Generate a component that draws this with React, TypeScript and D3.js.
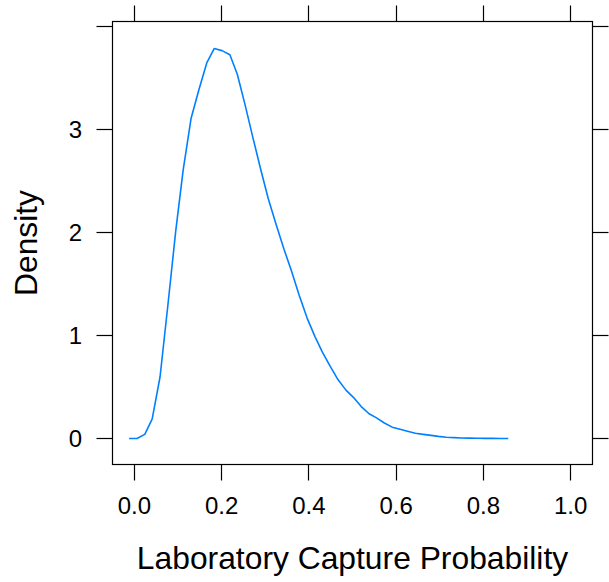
import React from "react";
import * as d3 from "d3";

const xValues = [
  -0.012, 0.006, 0.024, 0.041, 0.059, 0.077, 0.095, 0.112, 0.13, 0.148,
  0.166, 0.183, 0.201, 0.219, 0.236, 0.254, 0.272, 0.29, 0.307, 0.325,
  0.343, 0.36, 0.378, 0.396, 0.414, 0.431, 0.449, 0.467, 0.485, 0.502,
  0.52, 0.538, 0.555, 0.573, 0.591, 0.609, 0.626, 0.644, 0.662, 0.68,
  0.697, 0.715, 0.733, 0.75, 0.768, 0.786, 0.804, 0.821, 0.839, 0.857,
];
const densityValues = [
  0.0, 0.0, 0.04, 0.19, 0.6, 1.3, 2.02, 2.61, 3.11, 3.39,
  3.65, 3.79, 3.77, 3.73, 3.54, 3.24, 2.92, 2.61, 2.33, 2.08,
  1.84, 1.63, 1.39, 1.17, 0.99, 0.84, 0.7, 0.57, 0.47, 0.4,
  0.31, 0.24, 0.2, 0.15, 0.11, 0.09, 0.07, 0.05, 0.04, 0.03,
  0.02, 0.012, 0.008, 0.005, 0.003, 0.002, 0.001, 0.001, 0.0, 0.0,
];
const xTicks = [0, 0.2, 0.4, 0.6, 0.8, 1.0];
const xTickLabels = ["0.0", "0.2", "0.4", "0.6", "0.8", "1.0"];
const yTicks = [0, 1, 2, 3, 4];
const yTickLabels = ["0", "1", "2", "3", ""];
const xTitle = "Laboratory Capture Probability";
const yTitle = "Density";

const W = 609;
const H = 582;
const left = 112.5;
const right = 592.5;
const top = 21.5;
const bottom = 464.5;
const tickLen = 16;
const font = "'Liberation Sans', Arial, Helvetica, sans-serif";
const snap = (v: number) => Math.round(v - 0.5) + 0.5;

export default function App() {
  const x = d3.scaleLinear().domain([-0.05, 1.05]).range([left, right]);
  const y = d3.scaleLinear().domain([-0.253, 4.053]).range([bottom, top]);
  const data = xValues.map((v, i) => [v, densityValues[i]] as [number, number]);
  const line = d3
    .line<[number, number]>()
    .x((d) => x(d[0]))
    .y((d) => y(d[1]));

  return (
    <svg
      width={W}
      height={H}
      style={{ position: "absolute", left: 0, top: 0, background: "#fff" }}
      fontFamily={font}
    >
      <rect x={0} y={0} width={W} height={H} fill="#fff" />
      {xTicks.map((t, i) => (
        <g key={"x" + i}>
          <line x1={snap(x(t))} x2={snap(x(t))} y1={bottom} y2={bottom + tickLen} stroke="#000" strokeWidth={1.2} />
          <line x1={snap(x(t))} x2={snap(x(t))} y1={top} y2={top - tickLen} stroke="#000" strokeWidth={1.2} />
          <text x={x(t)} y={514.3} textAnchor="middle" fontSize={24} fill="#000">
            {xTickLabels[i]}
          </text>
        </g>
      ))}
      {yTicks.map((t, i) => (
        <g key={"y" + i}>
          <line x1={left - tickLen} x2={left} y1={snap(y(t))} y2={snap(y(t))} stroke="#000" strokeWidth={1.2} />
          <line x1={right} x2={right + tickLen} y1={snap(y(t))} y2={snap(y(t))} stroke="#000" strokeWidth={1.2} />
          {yTickLabels[i] && (
            <text x={82} y={y(t)} dy="0.35em" textAnchor="end" fontSize={24} fill="#000">
              {yTickLabels[i]}
            </text>
          )}
        </g>
      ))}
      <path d={line(data) || ""} fill="none" stroke="#0080ff" strokeWidth={1.6} strokeLinejoin="round" />
      <rect x={left} y={top} width={right - left} height={bottom - top} fill="none" stroke="#000" strokeWidth={1.2} />
      <text x={(left + right) / 2} y={569.3} textAnchor="middle" fontSize={31.8} fill="#000">
        {xTitle}
      </text>
      <text
        transform={`translate(37,${(top + bottom) / 2}) rotate(-90)`}
        textAnchor="middle"
        fontSize={31.8}
        fill="#000"
      >
        {yTitle}
      </text>
    </svg>
  );
}
